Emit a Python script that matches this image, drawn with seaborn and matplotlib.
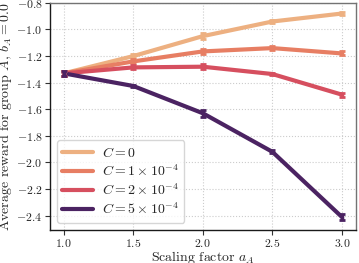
import numpy as np
import pandas as pd
import matplotlib
matplotlib.use("Agg")
import matplotlib.pyplot as plt
import seaborn as sns

scales = [1.0, 1.5, 2.0, 2.5, 3.0]
c_values = [0.0, 1e-4, 2e-4, 5e-4]
c_labels = [r"$C = 0$", r"$C = 1 \times 10^{-4}$", r"$C = 2 \times 10^{-4}$", r"$C = 5 \times 10^{-4}$"]
reward_c0 = [-1.33, -1.20, -1.05, -0.94, -0.88]
reward_c1 = [-1.33, -1.24, -1.165, -1.14, -1.18]
reward_c2 = [-1.33, -1.285, -1.28, -1.335, -1.49]
reward_c5 = [-1.33, -1.425, -1.63, -1.92, -2.41]
err_c0 = [0.02, 0.015, 0.02, 0.01, 0.01]
err_c1 = [0.02, 0.015, 0.02, 0.015, 0.015]
err_c2 = [0.02, 0.015, 0.02, 0.01, 0.015]
err_c5 = [0.02, 0.01, 0.025, 0.01, 0.025]

rewards = [reward_c0, reward_c1, reward_c2, reward_c5]
errors = [err_c0, err_c1, err_c2, err_c5]

rows = []
for lab, c, r, e in zip(c_labels, c_values, rewards, errors):
    for x, y, ee in zip(scales, r, e):
        rows.append({"scale": x, "reward": y, "err": ee, "C": lab, "cval": c})
df = pd.DataFrame(rows)

sns.set_theme(style="whitegrid")
plt.rcParams["font.family"] = ["cmr10", "DejaVu Serif"]
plt.rcParams["mathtext.fontset"] = "cm"
plt.rcParams["axes.formatter.use_mathtext"] = True
plt.rcParams["axes.unicode_minus"] = True

cmap = plt.get_cmap("flare")
palette = {lab: cmap(c / 5e-4) for lab, c in zip(c_labels, c_values)}

fig = plt.figure(figsize=(3.59, 2.63), dpi=100)
ax = fig.add_axes([0.139, 0.127, 0.852, 0.862])

sns.lineplot(data=df, x="scale", y="reward", hue="C", palette=palette,
             hue_order=c_labels, lw=3, ax=ax, legend=True)
for lab in c_labels:
    sub = df[df["C"] == lab]
    ax.errorbar(sub["scale"], sub["reward"], yerr=sub["err"], fmt="none",
                ecolor=palette[lab], elinewidth=2.5, capsize=2, capthick=2)

ax.set_xlim(0.9, 3.1)
ax.set_ylim(-2.505, -0.8)
ax.set_xticks([1.0, 1.5, 2.0, 2.5, 3.0])
ax.set_yticks([-0.8, -1.0, -1.2, -1.4, -1.6, -1.8, -2.0, -2.2, -2.4])
ax.set_xlabel(r"Scaling factor $a_A$", fontsize=10, labelpad=-0.5)
ax.set_ylabel(r"Average reward for group $A$, $b_A = 0.0$", fontsize=10, labelpad=1.5)
ax.tick_params(labelsize=8.5, length=3.5, width=0.8, direction="out", pad=2,
               left=True, bottom=True, color="0.2")
ax.grid(True, linestyle=":", color="0.8", linewidth=0.8)
for s in ["left", "bottom"]:
    ax.spines[s].set_color("0.1")
    ax.spines[s].set_linewidth(1.0)
for s in ["top", "right"]:
    ax.spines[s].set_color("0.45")
    ax.spines[s].set_linewidth(1.0)

leg = ax.legend(loc="lower left", fontsize=10, frameon=True, handlelength=2.2,
                borderpad=0.4, labelspacing=0.25, handletextpad=0.65,
                bbox_to_anchor=(0.0, 0.0))
for h in leg.get_lines():
    h.set_linewidth(3)
leg.get_frame().set_edgecolor("0.8")

fig.savefig("out.png", dpi=100)
